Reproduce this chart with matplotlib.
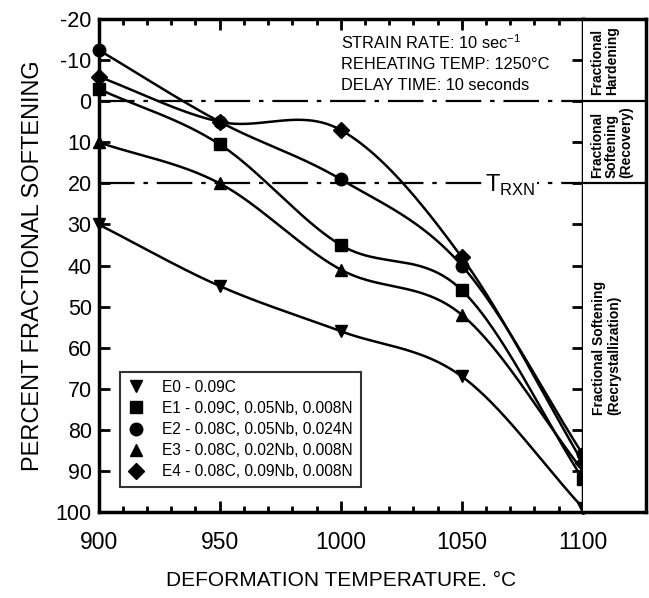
import numpy as np
import matplotlib.pyplot as plt
from matplotlib.ticker import MultipleLocator

plt.rcParams['font.family'] = ['Liberation Sans', 'DejaVu Sans']
plt.rcParams['axes.unicode_minus'] = False

# deformation temperatures, deg C
temps = [900, 950, 1000, 1050, 1100]

# percent fractional softening
e0 = [30, 45, 56, 67, 99]
e1 = [-3, 10.5, 35, 46, 92]
e2 = [-12.5, 5, 19, 40, 86]
e3 = [10, 20, 41, 52, 90]
e4 = [-6, 5, 7, 38, 88]

labels = ["E0 - 0.09C",
          "E1 - 0.09C, 0.05Nb, 0.008N",
          "E2 - 0.08C, 0.05Nb, 0.024N",
          "E3 - 0.08C, 0.02Nb, 0.008N",
          "E4 - 0.08C, 0.09Nb, 0.008N"]
markers = ["v", "s", "o", "^", "D"]


def smooth(x, y, xs):
    # catmull-rom style hermite curve through the points (for drawing only)
    x = np.asarray(x, float)
    y = np.asarray(y, float)
    h = np.diff(x)
    d = np.diff(y) / h
    m = np.empty_like(y)
    m[1:-1] = 0.5 * (d[:-1] + d[1:])
    m[0] = d[0]
    m[-1] = d[-1]
    k = np.clip(np.searchsorted(x, xs, side="right") - 1, 0, len(x) - 2)
    t = (xs - x[k]) / h[k]
    h00 = 2 * t**3 - 3 * t**2 + 1
    h10 = t**3 - 2 * t**2 + t
    h01 = -2 * t**3 + 3 * t**2
    h11 = t**3 - t**2
    return h00 * y[k] + h10 * h[k] * m[k] + h01 * y[k + 1] + h11 * h[k] * m[k + 1]


fig = plt.figure(figsize=(6.49, 5.98), dpi=100)
ax = fig.add_axes([0.152, 0.144, 0.746, 0.824])
side = fig.add_axes([0.898, 0.144, 0.097, 0.824])

xs = np.linspace(900, 1100, 400)
for ys, mk, lab in zip([e0, e1, e2, e3, e4], markers, labels):
    ax.plot(xs, smooth(temps, ys, xs), color="black", lw=1.8, clip_on=False)
    ms = 8 if mk == "D" else 9
    ax.plot(temps, ys, linestyle="none", marker=mk, ms=ms, color="black",
            clip_on=False, zorder=5, label=lab)

# reference lines
dash = (0, (16, 4, 2, 4))
ax.axhline(0, color="black", lw=1.6, linestyle=dash)
ax.axhline(20, color="black", lw=1.6, linestyle=dash)
ax.text(1070, 20.5, "T$_{\\mathregular{RXN}}$", fontsize=17, ha="center", va="center",
        bbox=dict(facecolor="white", edgecolor="none", pad=1))

ax.text(1000, -14.2, "STRAIN RATE: 10 sec$^{\\mathregular{-1}}$", fontsize=11.8, va="center")
ax.text(1000, -9, "REHEATING TEMP: 1250°C", fontsize=11.8, va="center")
ax.text(1000, -3.8, "DELAY TIME: 10 seconds", fontsize=11.8, va="center")

ax.set_xlim(900, 1100)
ax.set_ylim(100, -20)
ax.xaxis.set_major_locator(MultipleLocator(50))
ax.xaxis.set_minor_locator(MultipleLocator(10))
ax.yaxis.set_major_locator(MultipleLocator(10))
ax.tick_params(which="both", direction="in", top=True, right=True, width=2)
ax.tick_params(which="major", length=8)
ax.tick_params(which="minor", length=4)
ax.tick_params(axis="x", labelsize=16.5, pad=14)
ax.tick_params(axis="y", labelsize=15.5, pad=5)
for s in ax.spines.values():
    s.set_linewidth(2.5)

ax.set_xlabel("DEFORMATION TEMPERATURE. °C", fontsize=15, labelpad=12)
ax.set_ylabel("PERCENT FRACTIONAL SOFTENING", fontsize=17, labelpad=8)

leg = ax.legend(loc="lower left", bbox_to_anchor=(0.045, 0.05), borderaxespad=0,
                fontsize=11.2, frameon=True, fancybox=False, edgecolor="black",
                handlelength=1.0, handletextpad=1.2, borderpad=0.5,
                labelspacing=0.4)
leg.get_frame().set_linewidth(1.5)

# right side region labels
side.set_xlim(0, 1)
side.set_ylim(100, -20)
side.set_xticks([])
side.set_yticks([])
for s in side.spines.values():
    s.set_linewidth(2.5)
side.spines["left"].set_visible(False)
side.axhline(0, color="black", lw=1.6)
side.axhline(20, color="black", lw=1.6)
side.text(0.12, -10, "Fractional\nHardening", rotation=90, ha="left", va="center",
          fontsize=10, fontweight="bold", linespacing=1.05)
side.text(0.12, 10, "Fractional\nSoftening\n(Recovery)", rotation=90, ha="left",
          va="center", fontsize=10, fontweight="bold", linespacing=1.05)
side.text(0.15, 60, "Fractional Softening\n(Recrystallization)", rotation=90,
          ha="left", va="center", fontsize=10, fontweight="bold", linespacing=1.05)

fig.savefig("out.png", dpi=100)
